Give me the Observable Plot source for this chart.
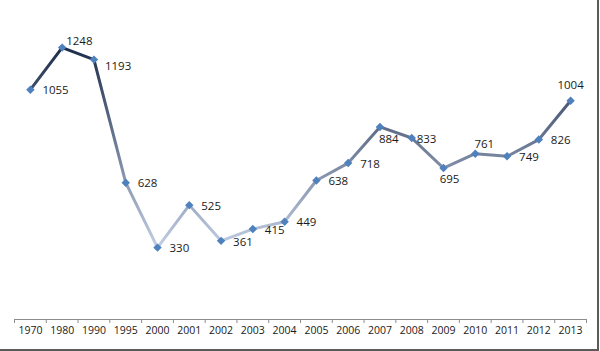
<!DOCTYPE html>
<html><head><meta charset="utf-8">
<script src="https://cdn.jsdelivr.net/npm/d3@7"></script>
<script src="https://cdn.jsdelivr.net/npm/@observablehq/plot@0.6"></script>
<style>
body{margin:0;background:#fff}
#chart{width:597px;height:349px;border-right:2px solid #5b5b5b;border-bottom:2px solid #5b5b5b;overflow:hidden}
svg{display:block}
</style>
</head><body><div id="chart"></div>
<script>
const years = ["1970","1980","1990","1995","2000","2001","2002","2003","2004","2005","2006","2007","2008","2009","2010","2011","2012","2013"];
const values = [1055,1248,1193,628,330,525,361,415,449,638,718,884,833,695,761,749,826,1004];
const labelPlacement = ["right","rightHigh","rightLow","right","right","right","right","right","right","right","right","belowRight","rightNear","below","above","right","right","top"];

const data = years.map((year, i) => ({year, value: values[i], place: labelPlacement[i]}));

const W = 597, H = 349, ml = 14, mr = 11, mt = 14, mb = 30;
const bw = (W - ml - mr) / years.length;
const offsets = {
  right: {dx: 12, dy: 1, textAnchor: "start"},
  rightLow: {dx: 11, dy: 7, textAnchor: "start"},
  rightHigh: {dx: 4, dy: -6, textAnchor: "start"},
  rightNear: {dx: 5, dy: 1, textAnchor: "start"},
  belowRight: {dx: -1, dy: 12, textAnchor: "start"},
  below: {dx: 6, dy: 11, textAnchor: "middle"},
  above: {dx: 9, dy: -9, textAnchor: "middle"},
  top: {dx: 0, dy: -15, textAnchor: "middle"}
};
const labelMarks = Object.entries(offsets).map(([k, o]) =>
  Plot.text(data.filter(d => d.place === k), {x: "year", y: "value", text: d => String(d.value), fill: "#1a1a1a", fontSize: 11.5, ...o})
);

const chart = Plot.plot({
  width: W, height: H,
  marginLeft: ml, marginRight: mr, marginTop: mt, marginBottom: mb,
  style: {fontFamily: "'Open Sans', 'DejaVu Sans', sans-serif", fontSize: "10.5px", color: "#1a1a1a", background: "#fff"},
  x: {type: "band", domain: years, padding: 0, round: false, tickSize: 0, tickPadding: 7, label: null},
  y: {domain: [0, 1400], axis: null},
  marks: [
    Plot.ruleY([0], {stroke: "#8c8c8c"}),
    Plot.ruleX(years, {x: d => d, y1: 0, y2: 0, dx: -bw / 2, insetBottom: -4, stroke: "#8c8c8c"}),
    Plot.ruleX(years.slice(-1), {x: d => d, y1: 0, y2: 0, dx: bw / 2, insetBottom: -4, stroke: "#8c8c8c"}),
    Plot.line(data, {x: "year", y: "value", stroke: "url(#lineGrad)", strokeWidth: 3, strokeLinejoin: "round"}),
    Plot.dot(data, {x: "year", y: "value", symbol: "diamond2", r: 3.8, fill: "#4f81bd", stroke: "none"}),
    ...labelMarks
  ]
});

const defs = d3.select(chart).insert("defs", ":first-child");
const grad = defs.append("linearGradient").attr("id", "lineGrad")
  .attr("x1", 0).attr("x2", 0).attr("y1", 0).attr("y2", 1);
grad.append("stop").attr("offset", "0%").attr("stop-color", "#1d2d4b");
grad.append("stop").attr("offset", "100%").attr("stop-color", "#c2cee4");

document.getElementById("chart").appendChild(chart);
</script>
</body></html>
